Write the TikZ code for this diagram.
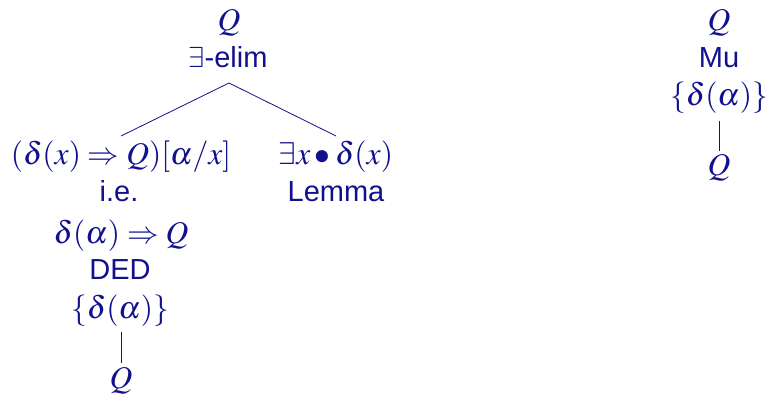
\documentclass[tikz,border=0pt]{standalone}
\usepackage{mathptmx}
\usepackage{fontspec}
\setmainfont{Liberation Sans}
\definecolor{ink}{RGB}{17,17,140}
\tikzset{
  lbl/.style={anchor=base, inner sep=0pt, text=ink, font=\fontsize{29}{34}\selectfont},
  mth/.style={lbl, font=\fontsize{31.5}{36}\selectfont},
  link/.style={draw=ink, line width=0.8pt}
}
\begin{document}
\begin{tikzpicture}[x=1pt,y=-1pt]
\useasboundingbox (0,0) rectangle (768,398);
% left tree
\node[mth] (q1) at (229,31) {$Q$};
\node[lbl] (elim) at (228,68) {$\exists$-elim};
\node[mth] (lf) at (121,165) {$(\delta(x)\Rightarrow Q)[\alpha/x]$};
\node[mth] (rf) at (336,165) {$\exists x\bullet\delta(x)$};
\node[lbl] (ie) at (119,202) {i.e.};
\node[lbl] (lem) at (336,202) {Lemma};
\node[mth] (imp) at (121,243) {$\delta(\alpha)\Rightarrow Q$};
\node[lbl] (ded) at (120,279) {DED};
\node[mth] (hyp) at (120,318) {$\{\delta(\alpha)\}$};
\node[mth] (q2) at (121,388) {$Q$};
\draw[link] ([xshift=1pt,yshift=-15pt]elim.base) -- ([yshift=29pt]lf.base);
\draw[link] ([xshift=1pt,yshift=-15pt]elim.base) -- ([yshift=29pt]rf.base);
\draw[link] ([xshift=1pt,yshift=-14pt]hyp.base) -- ([yshift=25pt]q2.base);
% right tree
\node[mth] (q3) at (719,31) {$Q$};
\node[lbl] (mu) at (719,68) {Mu};
\node[mth] (hyp2) at (719,106) {$\{\delta(\alpha)\}$};
\node[mth] (q4) at (719,176) {$Q$};
\draw[link] ([yshift=-15pt]hyp2.base) -- ([yshift=25pt]q4.base);
\end{tikzpicture}
\end{document}
